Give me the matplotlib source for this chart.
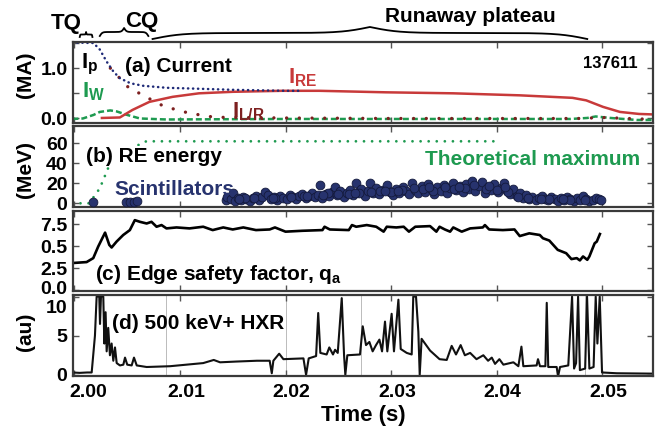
import numpy as np
import matplotlib
matplotlib.use("Agg")
import matplotlib.pyplot as plt
from matplotlib import transforms

# ---- data (time given in ms after t = 2.000 s) ----
ip_ms = [-0.2, 1.8, 2.4, 3.05, 3.7, 4.3, 5.3, 6.5, 8.7, 11.9, 15.0, 20.1, 21.5]
ip_ma = [1.51, 1.50, 1.37, 1.13, 0.93, 0.80, 0.70, 0.65, 0.61, 0.59, 0.57, 0.55, 0.55]

ire_ms = [2.6, 4.3, 5.5, 7.1, 9.3, 11.8, 15.0, 19.7, 23.2, 29.5, 35.9, 42.2, 47.2, 48.5,
          50.1, 51.7, 53.5, 54.9]
ire_ma = [0.01, 0.02, 0.17, 0.33, 0.43, 0.50, 0.53, 0.55, 0.55, 0.52, 0.50, 0.46, 0.41, 0.36,
          0.23, 0.13, 0.09, 0.08]

ilr_ms = [3.4, 5.1, 7.3, 8.4, 9.7, 10.8, 11.9, 13.1, 14.4, 20.0, 30.0, 40.0, 48.0, 50.0, 54.9]
ilr_ma = [1.00, 0.62, 0.37, 0.25, 0.17, 0.11, 0.07, 0.03, 0.02, 0.01, 0.0, 0.0, 0.0, 0.02, -0.02]

iw_ms = [-0.2, 0.8, 1.8, 2.4, 3.4, 4.0, 5.0, 6.2, 8.7, 20.0, 35.0, 47.0, 48.6, 49.4, 50.8, 53.3, 54.9]
iw_ma = [-0.01, 0.0, 0.07, 0.13, 0.16, 0.14, 0.07, 0.0, -0.02, -0.01, -0.01, -0.01, 0.01, 0.04,
         0.01, -0.03, -0.03]

theory_ms = [-0.2, 1.4, 2.4, 3.3, 3.8, 6.8, 40.0]
theory_mev = [0, 0, 15, 38, 47, 62, 62]

scint_ms = [1.8, 4.9, 5.3, 5.6, 5.9,
            14.4, 14.5, 14.8, 15.0, 15.2, 15.5, 15.8, 16.0, 16.3, 16.6, 16.9, 17.2, 17.5, 17.8,
            18.1, 18.3, 18.6, 18.9, 19.2, 19.5, 19.8, 20.1, 20.4, 20.7, 21.0, 21.3, 21.6, 21.9,
            22.2, 22.5, 22.8, 23.1, 23.3, 23.5, 23.8, 24.1, 24.4, 24.7, 24.9, 25.2, 25.5, 25.8,
            26.1, 26.4, 26.7, 26.9, 27.2, 27.5, 27.8, 28.0, 28.3, 28.6, 28.9, 29.2, 29.6, 29.9,
            30.2, 30.5, 30.8, 31.1, 31.4, 31.7, 32.0, 32.3, 32.6, 32.9, 33.2, 33.5, 33.8, 34.1,
            34.4, 34.7, 35.0, 35.3, 35.6, 35.9, 36.2, 36.5, 36.8, 37.1, 37.4, 37.7, 38.0, 38.3,
            38.6, 38.9, 39.2, 39.5, 39.8, 40.1, 40.4, 40.7, 41.0, 41.3, 41.6, 41.9, 42.2, 42.5,
            42.8, 43.1, 43.4, 43.7, 44.0, 44.3, 44.6, 44.9, 45.2, 45.5, 45.8, 46.1, 46.4, 46.7,
            47.0, 47.3, 47.6, 47.9, 48.2, 48.5, 48.8, 49.1, 49.4, 49.7, 49.9,
            16.2, 19.0, 21.8, 24.0, 26.0, 27.0, 29.0, 30.0, 31.0, 33.0, 34.0, 36.0, 37.0, 39.0,
            40.0, 41.1, 43.0, 45.0, 47.0,
            15.6, 17.0, 18.8, 20.5, 22.0, 23.6, 25.0, 26.6, 28.1, 29.4, 30.7, 32.2, 33.6, 35.1,
            36.4, 37.9, 39.3, 40.8, 42.0, 44.2, 46.3, 48.4]
scint_mev = [1, 1, 1, 1.5, 2,
             3, 6, 4, 10, 2, 5, 3, 6, 4, 2, 5, 7, 3, 6,
             11, 8, 4, 6, 3, 7, 5, 4, 8, 6, 4, 7, 9, 5,
             7, 10, 6, 8, 18, 5, 9, 7, 11, 16, 8, 12, 6, 10,
             13, 8, 20, 11, 14, 7, 12, 20, 10, 15, 9, 13, 18, 11,
             8, 14, 10, 16, 12, 9, 20, 13, 10, 17, 11, 19, 14, 9,
             16, 12, 18, 10, 15, 20, 13, 17, 11, 19, 14, 22, 12, 17,
             21, 10, 16, 13, 19, 11, 15, 20, 12, 9, 14, 7, 10, 5,
             8, 4, 6, 3, 5, 7, 4, 3, 6, 4, 2, 5, 3, 6,
             4, 2, 5, 3, 7, 4, 2, 3, 5, 4, 3,
             5, 5, 7, 10, 9, 10, 12, 11, 13, 14, 12, 14, 15, 14,
             13, 11, 5, 4, 3,
             4, 5, 5, 6, 7, 8, 9, 10, 11, 12, 12, 15, 16, 16,
             16, 18, 17, 16, 6, 4, 4, 3]

qa_ms = [-0.2, 1.15, 1.78, 2.25, 2.9, 3.3, 3.52, 3.99, 4.62, 5.25, 5.72, 6.2, 6.84, 7.3, 7.78,
         8.25, 8.72, 9.67, 10.9, 12.2, 13.1, 14.1, 15.0, 16.0, 17.2, 18.5, 19.0, 20.0, 21.6,
         23.5, 23.7, 24.2, 26.0, 26.3, 26.7, 27.7, 28.6, 29.3, 29.6, 30.5, 31.2, 31.7, 32.3,
         33.7, 34.3, 34.6, 35.1, 35.6, 35.9, 36.7, 37.5, 38.7, 38.9, 39.3, 40.6, 41.7, 42.2,
         43.1, 44.1, 44.4, 45.0, 45.8, 46.6, 47.1, 47.6, 47.9, 48.2, 48.6, 48.8, 49.3, 49.5, 49.8]
qa_val = [3.08, 3.19, 3.64, 4.96, 6.54, 5.14, 4.85, 5.52, 6.27, 6.83, 7.96, 7.77, 7.58, 7.77, 7.21,
          7.40, 7.02, 7.13, 7.02, 7.21, 6.83, 7.13, 6.90, 7.13, 6.83, 6.90, 7.13, 6.65, 6.75,
          6.83, 7.21, 6.90, 6.83, 7.40, 7.21, 7.40, 7.21, 6.65, 7.21, 7.13, 7.21, 6.65, 7.21,
          7.28, 6.65, 7.21, 6.90, 6.65, 7.13, 6.65, 7.02, 7.13, 7.40, 6.90, 6.83, 6.90, 6.15,
          6.46, 6.27, 5.90, 5.64, 4.58, 4.20, 3.53, 3.64, 3.38, 3.83, 3.45, 3.83, 5.33, 5.52, 6.38]

hxr_ms = [-0.2, 0.5, 1.2, 1.63, 1.94, 2.1, 2.35, 2.42, 2.51, 2.73, 2.83, 2.95, 3.05, 3.2, 3.36,
          3.52, 3.68, 3.84, 4.0, 4.31, 4.63, 4.79, 5.0, 5.42, 5.64, 5.9, 6.84, 9.05, 12.2, 13.2,
          13.8, 15.4, 17.3, 18.5, 18.7, 18.85, 19.4, 19.8, 21.7, 21.95, 22.2, 22.9, 23.1, 23.3,
          23.9, 24.15, 24.5, 24.7, 24.95, 25.33, 25.55, 25.67, 25.86, 27.06, 27.32, 27.63, 27.95,
          28.26, 28.58, 28.9, 29.15, 29.43, 29.65, 30.06, 30.28, 30.7, 30.92, 31.49, 31.96, 32.11,
          32.37, 32.59, 32.72, 32.9, 33.7, 34.6, 35.28, 35.75, 36.16, 36.6, 37.0, 37.5, 38.1,
          38.75, 39.2, 39.55, 39.86, 40.27, 40.65, 41.6, 42.07, 42.36, 42.54, 43.8, 43.93, 44.12,
          44.63, 44.76, 44.9, 45.7, 45.83, 46.02, 46.8, 47.16, 47.35, 47.54, 47.73, 47.9, 48.4,
          48.58, 48.8, 49.2, 49.4, 49.56, 49.78, 50.0, 51.4, 54.9]
hxr_au = [0.3, 0.25, 0.3, 0.3, 5.0, 10.0, 10.0, 6.5, 10.0, 10.0, 4.0, 8.0, 3.0, 6.0, 2.5,
          4.0, 1.8, 3.5, 1.5, 1.2, 1.3, 2.2, 1.3, 1.2, 2.2, 1.2, 1.0, 1.1, 1.5, 1.9,
          1.6, 1.7, 1.8, 1.8, 0.2, 1.8, 2.7, 2.0, 2.1, 0.0, 2.1, 2.4, 7.9, 2.8,
          2.6, 3.5, 2.6, 3.2, 2.8, 9.8, 2.5, 0.0, 2.5, 2.6, 6.2, 3.8, 4.2,
          3.0, 3.8, 4.5, 3.0, 6.8, 3.0, 7.8, 3.0, 9.6, 3.3, 2.8, 2.6, 10.0,
          10.0, 5.5, 0.0, 4.6, 3.1, 2.0, 1.9, 3.7, 2.6, 3.8, 2.5, 2.8, 2.0,
          2.5, 1.8, 2.2, 1.4, 2.0, 1.3, 1.6, 1.1, 3.6, 1.1, 1.2, 2.0, 1.1,
          1.1, 9.2, 1.0, 1.0, -0.2, 1.0, 1.2, 10.0, 0.8, 1.5, 10.0, 0.6, 0.8,
          10.0, 0.8, 1.0, 10.0, 4.0, 10.0, 0.3, 0.2, 0.15]

hxr_grid_ms = [8.7, 20.0, 27.2, 48.4]
phase_names = ["TQ", "CQ", "Runaway plateau"]
phase_ms = [(0.5, 1.7), (2.4, 7.0), (7.4, 48.6)]
phase_label_ms = [-0.8, 6.4, 37.5]

x_ticks = [2.00, 2.01, 2.02, 2.03, 2.04, 2.05]


def t(ms):
    return 2.0 + np.asarray(ms) / 1000.0


plt.rcParams["font.family"] = ["Liberation Sans", "DejaVu Sans"]
plt.rcParams["font.weight"] = "bold"
plt.rcParams["axes.labelweight"] = "bold"
plt.rcParams["mathtext.fontset"] = "custom"
plt.rcParams["mathtext.rm"] = "Liberation Sans:bold"
plt.rcParams["mathtext.it"] = "Liberation Sans:bold"

NAVY = "#1f2b78"
RED = "#c83a3a"
BROWN = "#7d2020"
GREEN = "#1e9a50"
SCINT = "#27336e"

fig = plt.figure(figsize=(6.57, 4.32), dpi=100)


def rect(top, bottom):
    return [73 / 657, 1 - bottom / 432, 580 / 657, (bottom - top) / 432]


def shift(label, dx_px, dy_px):
    off = transforms.ScaledTranslation(dx_px / 100, dy_px / 100, fig.dpi_scale_trans)
    label.set_transform(label.get_transform() + off)


ax_a = fig.add_axes(rect(42, 123))
ax_b = fig.add_axes(rect(126, 207))
ax_c = fig.add_axes(rect(211, 291))
ax_d = fig.add_axes(rect(295, 376))
axes = [ax_a, ax_b, ax_c, ax_d]

for ax in axes:
    ax.set_xlim(1.99986, 2.05483)
    ax.set_xticks(x_ticks)
    ax.tick_params(direction="in", top=True, right=True, length=4, width=1,
                   labelsize=14, pad=4, color="#555555")
    for sp in ax.spines.values():
        sp.set_linewidth(1.6)
        sp.set_color("#3a3a3a")
    if ax is not ax_d:
        ax.tick_params(labelbottom=False)

# (a) currents
ax_a.plot(t(iw_ms), iw_ma, color=GREEN, lw=1.8, linestyle=(0, (2.4, 1.2)))
ax_a.plot(t(ilr_ms), ilr_ma, color=BROWN, lw=2.4, linestyle=(0, (0.01, 3.8)),
          dash_capstyle="round")
ax_a.plot(t(ire_ms), ire_ma, color=RED, lw=1.8)
ax_a.plot(t(ip_ms), ip_ma, color=NAVY, lw=1.8, linestyle=(0, (0.1, 1.9)),
          dash_capstyle="round")
ax_a.set_ylim(-0.09, 1.52)
ax_a.set_yticks([0, 0.5, 1.0, 1.5])
ax_a.set_yticklabels(["0.0", "", "1.0", ""])
ax_a.set_ylabel("(MA)", fontsize=15)
ax_a.yaxis.set_label_coords(-0.066, 0.59)
ax_a.text(0.014, 0.68, r"$\mathrm{I_p}$", transform=ax_a.transAxes, fontsize=16)
ax_a.text(0.015, 0.31, r"$\mathrm{I_W}$", transform=ax_a.transAxes, fontsize=16, color=GREEN)
ax_a.text(0.09, 0.635, "(a) Current", transform=ax_a.transAxes, fontsize=15)
ax_a.text(0.371, 0.49, r"$\mathrm{I_{RE}}$", transform=ax_a.transAxes, fontsize=16, color=RED)
ax_a.text(0.274, 0.074, r"$\mathrm{I_{L/R}}$", transform=ax_a.transAxes, fontsize=16,
          color=BROWN)
ax_a.text(0.974, 0.68, "137611", transform=ax_a.transAxes, fontsize=12, ha="right")

# (b) RE energy
ax_b.plot(t(theory_ms), theory_mev, color=GREEN, lw=2.0, linestyle=(0, (0.01, 2.9)),
          dash_capstyle="round", zorder=1)
ax_b.scatter(t(scint_ms), scint_mev, s=40, facecolor=SCINT, edgecolor="#141a3c",
             linewidth=0.6, zorder=3)
ax_b.set_ylim(-3.7, 77.3)
ax_b.set_yticks([0, 20, 40, 60])
ax_b.set_ylabel("(MeV)", fontsize=15)
ax_b.yaxis.set_label_coords(-0.066, 0.46)
ax_b.text(0.022, 0.56, "(b) RE energy", transform=ax_b.transAxes, fontsize=15, zorder=2,
          bbox=dict(facecolor="white", edgecolor="none", pad=0.5))
ax_b.text(0.072, 0.148, "Scintillators", transform=ax_b.transAxes, fontsize=15, color=SCINT)
ax_b.text(0.978, 0.52, "Theoretical maximum", transform=ax_b.transAxes, fontsize=15,
          color=GREEN, ha="right")

# (c) edge safety factor
ax_c.plot(t(qa_ms), qa_val, color="black", lw=1.9)
ax_c.set_ylim(-0.1, 9.0)
ax_c.set_yticks([0, 2.5, 5.0, 7.5])
ax_c.set_yticklabels(["0.0", "2.5", "0.5", "7.5"])
ax_c.text(0.038, 0.14, r"(c) Edge safety factor, q$\mathrm{_a}$", transform=ax_c.transAxes,
          fontsize=15)

# (d) HXR
for g in hxr_grid_ms:
    ax_d.axvline(t(g), color="#bbbbbb", lw=0.7, zorder=0)
ax_d.plot(t(hxr_ms), hxr_au, color="#111111", lw=1.5)
ax_d.set_ylim(-0.15, 10.2)
ax_d.set_yticks([0, 5, 10])
ax_d.set_ylabel("(au)", fontsize=15)
ax_d.yaxis.set_label_coords(-0.066, 0.54)
ax_d.set_xticklabels([f"{v:.2f}" for v in x_ticks])
ax_d.tick_params(axis="x", pad=6)
ax_d.set_xlabel("Time (s)", fontsize=16, labelpad=3)
ax_d.text(0.067, 0.58, "(d) 500 keV+ HXR", transform=ax_d.transAxes, fontsize=15)

for ax in axes:
    for lbl in ax.get_xticklabels() + ax.get_yticklabels():
        lbl.set_fontweight("bold")

# nudge crowded tick labels the way the original figure does
for i, lbl in enumerate(ax_d.get_xticklabels()):
    shift(lbl, 14 if i == 0 else 6, 0)
shift(ax_d.get_yticklabels()[2], 0, -10)
shift(ax_c.get_yticklabels()[0], 0, 3)

# phase braces above panel (a)
trans = transforms.blended_transform_factory(ax_a.transData, fig.transFigure)


def brace(t0, t1, y_end, y_tip, beta):
    s = np.linspace(0, 1, 201)
    half = s[:101]
    yh = 1 / (1 + np.exp(-beta * (half - half[0]))) + 1 / (1 + np.exp(-beta * (half - half[-1])))
    yy = np.concatenate([yh, yh[-2::-1]])
    yy = (yy - yy.min()) / (yy.max() - yy.min())
    xs = t0 + (t1 - t0) * s
    ys = 1 - (y_end + (y_tip - y_end) * yy) / 432
    ax_a.plot(xs, ys, color="black", lw=1.3, transform=trans, clip_on=False)


brace(t(phase_ms[0][0]), t(phase_ms[0][1]), 37, 32, 60)
brace(t(phase_ms[1][0]), t(phase_ms[1][1]), 36, 28, 40)
brace(t(phase_ms[2][0]), t(phase_ms[2][1]), 39, 27, 30)

label_y = [24, 22, 17]
label_size = [16, 16, 15]
for name, m, yy, fs in zip(phase_names, phase_label_ms, label_y, label_size):
    ax_a.text(t(m), 1 - yy / 432, name, transform=trans, fontsize=fs,
              ha="center", va="center")

fig.savefig("out.png", dpi=100)
